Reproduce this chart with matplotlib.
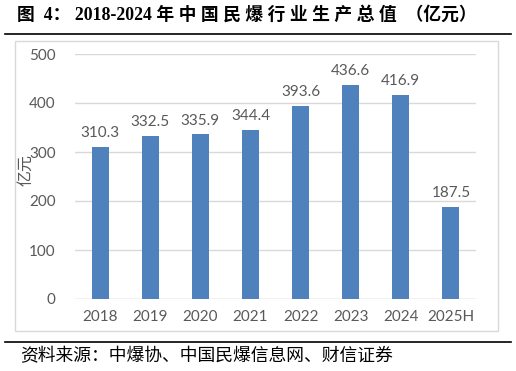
import matplotlib
matplotlib.use("Agg")
import matplotlib.pyplot as plt
from matplotlib.lines import Line2D
from matplotlib.patches import Rectangle
import numpy as np

years = ["2018", "2019", "2020", "2021", "2022", "2023", "2024", "2025H"]
values = [310.3, 332.5, 335.9, 344.4, 393.6, 436.6, 416.9, 187.5]
yticks = [0, 100, 200, 300, 400, 500]

TITLE = "图  4： 2018-2024 年 中 国 民 爆 行 业 生 产 总 值  （亿元）"
SOURCE = "资料来源：中爆协、中国民爆信息网、财信证券"
BAR_COLOR = "#4F81BD"
TEXT_GRAY = "#595959"
CJK = ["Liberation Serif", "Noto Sans CJK SC"]
NUM = ["Lato", "DejaVu Sans"]

W, H = 516, 371
fig = plt.figure(figsize=(W / 100, H / 100), dpi=100)
ax = fig.add_axes([75 / W, 1 - 299 / H, 401 / W, 245 / H])

x = np.arange(len(years))
ax.bar(x, values, 0.34, color=BAR_COLOR, zorder=3)
for xi, v in zip(x, values):
    ax.text(xi, v + 14, f"{v:.1f}", ha="center", va="bottom",
            fontsize=11, color=TEXT_GRAY, family=NUM)

ax.set_xlim(-0.5, len(years) - 0.5)
ax.set_ylim(0, 500)
ax.set_yticks(yticks)
ax.set_yticklabels([str(t) for t in yticks], fontsize=11, color=TEXT_GRAY, family=NUM)
ax.set_xticks(x)
ax.set_xticklabels(years, fontsize=11, color=TEXT_GRAY, family=NUM)
ax.tick_params(axis="y", length=0, pad=14)
ax.tick_params(axis="x", length=0, pad=8)
ax.grid(axis="y", color="#D9D9D9", linewidth=1, zorder=0)
for s in ax.spines.values():
    s.set_visible(False)
ax.axhline(0, color="#D9D9D9", linewidth=1, zorder=2)

fig.text(26 / W, 1 - 170 / H, "亿元", rotation=90, ha="center", va="center",
         fontsize=11.5, color=TEXT_GRAY, family=["Noto Sans CJK SC"])

# outer chart border
fig.add_artist(Rectangle((15 / W, 1 - 331 / H), 483 / W, 290 / H,
                         transform=fig.transFigure, fill=False,
                         edgecolor="#D9D9D9", linewidth=1))

# title and rules
fig.text(17 / W, 1 - 15 / H, TITLE, ha="left", va="center", fontsize=12.8,
         fontweight="bold", family=CJK, color="black")
fig.add_artist(Line2D([5 / W, 511 / W], [1 - 34 / H] * 2,
                      transform=fig.transFigure, color="black", linewidth=1.2))
fig.add_artist(Line2D([5 / W, 511 / W], [1 - 342 / H] * 2,
                      transform=fig.transFigure, color="black", linewidth=1.2))
fig.text(20 / W, 1 - 356 / H, SOURCE, ha="left", va="center", fontsize=12.8,
         family=["Noto Sans CJK SC"], color="black")

fig.savefig("out.png", dpi=100)
